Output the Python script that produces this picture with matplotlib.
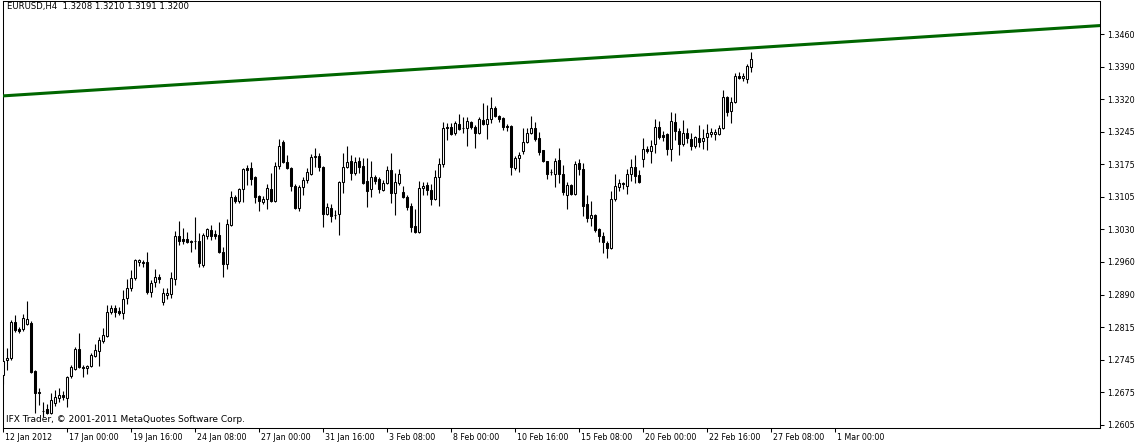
import numpy as np
import matplotlib
matplotlib.use('Agg')
import matplotlib.pyplot as plt
import matplotlib.transforms as mtrans

# EURUSD H4 candles (bar 0 = 12 Jan 2012 08:00)
opens = [
    1.2714, 1.2747, 1.2751, 1.2830, 1.2814, 1.2814, 1.2825, 1.2828, 1.2723, 1.2677,
    1.2635, 1.2639, 1.2631, 1.2652, 1.2663, 1.2670, 1.2663, 1.2712, 1.2727, 1.2771,
    1.2731, 1.2729, 1.2733, 1.2755, 1.2766, 1.2788, 1.2799, 1.2852, 1.2860, 1.2854,
    1.2850, 1.2882, 1.2904, 1.2926, 1.2961, 1.2961, 1.2961, 1.2896, 1.2917, 1.2928,
    1.2874, 1.2889, 1.2891, 1.2924, 1.3018, 1.3012, 1.3012, 1.3007, 1.3007, 1.3007,
    1.2955, 1.3018, 1.3031, 1.3023, 1.3020, 1.2983, 1.2957, 1.3042, 1.3104, 1.3095,
    1.3121, 1.3167, 1.3167, 1.3147, 1.3106, 1.3093, 1.3099, 1.3121, 1.3095, 1.3171,
    1.3224, 1.3180, 1.3167, 1.3128, 1.3079, 1.3125, 1.3141, 1.3154, 1.3191, 1.3193,
    1.3169, 1.3066, 1.3079, 1.3064, 1.3066, 1.3136, 1.3169, 1.3182, 1.3156, 1.3182,
    1.3171, 1.3139, 1.3121, 1.3147, 1.3143, 1.3119, 1.3134, 1.3163, 1.3112, 1.3134,
    1.3114, 1.3104, 1.3084, 1.3040, 1.3027, 1.3123, 1.3130, 1.3119, 1.3099, 1.3147,
    1.3176, 1.3257, 1.3257, 1.3244, 1.3263, 1.3255, 1.3255, 1.3268, 1.3257, 1.3244,
    1.3272, 1.3263, 1.3274, 1.3298, 1.3281, 1.3277, 1.3259, 1.3259, 1.3167, 1.3189,
    1.3204, 1.3224, 1.3244, 1.3255, 1.3233, 1.3207, 1.3182, 1.3158, 1.3154, 1.3185,
    1.3154, 1.3108, 1.3130, 1.3110, 1.3178, 1.3165, 1.3088, 1.3058, 1.3064, 1.3033,
    1.3018, 1.3003, 1.2992, 1.3099, 1.3125, 1.3134, 1.3128, 1.3154, 1.3169, 1.3152,
    1.3187, 1.3209, 1.3204, 1.3220, 1.3257, 1.3239, 1.3242, 1.3209, 1.3268, 1.3248,
    1.3220, 1.3244, 1.3231, 1.3215, 1.3233, 1.3226, 1.3235, 1.3242, 1.3242, 1.3242,
    1.3255, 1.3323, 1.3292, 1.3312, 1.3369, 1.3364, 1.3362, 1.3388,
]
highs = [
    1.2747, 1.2773, 1.2834, 1.2845, 1.2819, 1.2847, 1.2876, 1.2832, 1.2725, 1.2685,
    1.2655, 1.2650, 1.2674, 1.2681, 1.2685, 1.2679, 1.2712, 1.2736, 1.2775, 1.2806,
    1.2736, 1.2736, 1.2762, 1.2782, 1.2797, 1.2817, 1.2867, 1.2867, 1.2867, 1.2863,
    1.2900, 1.2924, 1.2944, 1.2968, 1.2968, 1.2966, 1.2983, 1.2922, 1.2946, 1.2935,
    1.2904, 1.2904, 1.2939, 1.3029, 1.3051, 1.3036, 1.3027, 1.3009, 1.3060, 1.3025,
    1.3025, 1.3036, 1.3042, 1.3031, 1.3049, 1.2994, 1.3055, 1.3117, 1.3108, 1.3123,
    1.3167, 1.3174, 1.3180, 1.3150, 1.3108, 1.3106, 1.3132, 1.3156, 1.3180, 1.3231,
    1.3228, 1.3196, 1.3169, 1.3132, 1.3130, 1.3147, 1.3167, 1.3198, 1.3211, 1.3200,
    1.3171, 1.3090, 1.3088, 1.3075, 1.3139, 1.3200, 1.3215, 1.3196, 1.3191, 1.3191,
    1.3189, 1.3189, 1.3182, 1.3152, 1.3147, 1.3141, 1.3171, 1.3200, 1.3156, 1.3165,
    1.3128, 1.3108, 1.3090, 1.3077, 1.3139, 1.3136, 1.3136, 1.3132, 1.3163, 1.3189,
    1.3268, 1.3266, 1.3266, 1.3270, 1.3285, 1.3279, 1.3279, 1.3270, 1.3261, 1.3279,
    1.3309, 1.3305, 1.3323, 1.3303, 1.3283, 1.3279, 1.3263, 1.3261, 1.3193, 1.3202,
    1.3255, 1.3255, 1.3281, 1.3268, 1.3246, 1.3207, 1.3182, 1.3165, 1.3189, 1.3211,
    1.3174, 1.3136, 1.3132, 1.3182, 1.3187, 1.3178, 1.3108, 1.3095, 1.3066, 1.3036,
    1.3027, 1.3007, 1.3117, 1.3154, 1.3143, 1.3136, 1.3165, 1.3187, 1.3196, 1.3163,
    1.3233, 1.3215, 1.3228, 1.3274, 1.3270, 1.3248, 1.3244, 1.3290, 1.3288, 1.3255,
    1.3272, 1.3255, 1.3244, 1.3237, 1.3261, 1.3252, 1.3263, 1.3255, 1.3252, 1.3261,
    1.3338, 1.3325, 1.3323, 1.3375, 1.3377, 1.3375, 1.3395, 1.3421,
]
lows = [
    1.2694, 1.2725, 1.2747, 1.2808, 1.2806, 1.2810, 1.2823, 1.2718, 1.2631, 1.2648,
    1.2622, 1.2628, 1.2628, 1.2646, 1.2655, 1.2659, 1.2644, 1.2707, 1.2725, 1.2729,
    1.2709, 1.2716, 1.2731, 1.2753, 1.2733, 1.2784, 1.2797, 1.2847, 1.2841, 1.2845,
    1.2836, 1.2869, 1.2898, 1.2922, 1.2952, 1.2950, 1.2891, 1.2885, 1.2906, 1.2915,
    1.2867, 1.2880, 1.2882, 1.2911, 1.2998, 1.3001, 1.3003, 1.2983, 1.2990, 1.2950,
    1.2950, 1.3012, 1.3009, 1.3012, 1.2981, 1.2928, 1.2946, 1.3040, 1.3090, 1.3090,
    1.3093, 1.3130, 1.3130, 1.3090, 1.3073, 1.3088, 1.3077, 1.3093, 1.3093, 1.3165,
    1.3178, 1.3165, 1.3117, 1.3077, 1.3073, 1.3108, 1.3134, 1.3152, 1.3169, 1.3161,
    1.3038, 1.3064, 1.3049, 1.3055, 1.3020, 1.3112, 1.3167, 1.3141, 1.3152, 1.3156,
    1.3132, 1.3082, 1.3104, 1.3132, 1.3112, 1.3117, 1.3132, 1.3090, 1.3064, 1.3130,
    1.3101, 1.3075, 1.3027, 1.3025, 1.3025, 1.3108, 1.3108, 1.3086, 1.3097, 1.3084,
    1.3169, 1.3228, 1.3239, 1.3239, 1.3250, 1.3244, 1.3215, 1.3252, 1.3211, 1.3242,
    1.3261, 1.3231, 1.3266, 1.3279, 1.3268, 1.3250, 1.3248, 1.3152, 1.3163, 1.3158,
    1.3198, 1.3222, 1.3242, 1.3226, 1.3196, 1.3180, 1.3143, 1.3152, 1.3125, 1.3134,
    1.3108, 1.3077, 1.3108, 1.3108, 1.3152, 1.3062, 1.3049, 1.3040, 1.3027, 1.3005,
    1.2981, 1.2970, 1.2990, 1.3095, 1.3117, 1.3121, 1.3110, 1.3139, 1.3134, 1.3134,
    1.3169, 1.3200, 1.3178, 1.3200, 1.3231, 1.3226, 1.3196, 1.3182, 1.3228, 1.3196,
    1.3215, 1.3222, 1.3207, 1.3211, 1.3213, 1.3209, 1.3207, 1.3235, 1.3228, 1.3239,
    1.3252, 1.3281, 1.3266, 1.3309, 1.3362, 1.3358, 1.3353, 1.3377,
]
closes = [
    1.2744, 1.2751, 1.2830, 1.2812, 1.2810, 1.2839, 1.2836, 1.2720, 1.2674, 1.2674,
    1.2635, 1.2631, 1.2659, 1.2666, 1.2670, 1.2666, 1.2709, 1.2731, 1.2771, 1.2731,
    1.2729, 1.2733, 1.2758, 1.2769, 1.2790, 1.2801, 1.2852, 1.2860, 1.2852, 1.2850,
    1.2880, 1.2904, 1.2926, 1.2966, 1.2966, 1.2959, 1.2896, 1.2915, 1.2928, 1.2924,
    1.2893, 1.2893, 1.2926, 1.3018, 1.3007, 1.3007, 1.3005, 1.3005, 1.3007, 1.2959,
    1.3020, 1.3033, 1.3018, 1.3018, 1.2983, 1.2957, 1.3044, 1.3104, 1.3095, 1.3121,
    1.3165, 1.3163, 1.3143, 1.3104, 1.3095, 1.3099, 1.3123, 1.3095, 1.3171, 1.3215,
    1.3180, 1.3167, 1.3128, 1.3079, 1.3125, 1.3141, 1.3158, 1.3191, 1.3193, 1.3169,
    1.3066, 1.3082, 1.3062, 1.3064, 1.3136, 1.3169, 1.3180, 1.3156, 1.3180, 1.3169,
    1.3134, 1.3117, 1.3147, 1.3139, 1.3121, 1.3134, 1.3163, 1.3112, 1.3136, 1.3154,
    1.3104, 1.3082, 1.3038, 1.3027, 1.3123, 1.3128, 1.3119, 1.3099, 1.3147, 1.3176,
    1.3255, 1.3255, 1.3242, 1.3266, 1.3252, 1.3255, 1.3270, 1.3257, 1.3244, 1.3274,
    1.3263, 1.3274, 1.3298, 1.3281, 1.3274, 1.3257, 1.3257, 1.3169, 1.3189, 1.3196,
    1.3224, 1.3244, 1.3255, 1.3231, 1.3202, 1.3182, 1.3154, 1.3158, 1.3182, 1.3154,
    1.3114, 1.3130, 1.3110, 1.3176, 1.3165, 1.3084, 1.3058, 1.3064, 1.3031, 1.3018,
    1.3005, 1.2992, 1.3099, 1.3128, 1.3134, 1.3132, 1.3154, 1.3169, 1.3150, 1.3136,
    1.3209, 1.3204, 1.3215, 1.3257, 1.3235, 1.3235, 1.3209, 1.3270, 1.3248, 1.3220,
    1.3244, 1.3233, 1.3215, 1.3235, 1.3224, 1.3233, 1.3244, 1.3246, 1.3246, 1.3255,
    1.3323, 1.3290, 1.3312, 1.3369, 1.3364, 1.3369, 1.3390, 1.3406,
]

# trendline anchors (bar index, price)
trend_bars = [0, 187]
trend_prices = [1.3325, 1.3430]

price_labels = ['1.3460', '1.3390', '1.3320', '1.3245', '1.3175', '1.3105', '1.3030',
                '1.2960', '1.2890', '1.2815', '1.2745', '1.2675', '1.2605']
time_labels = ['12 Jan 2012', '17 Jan 00:00', '19 Jan 16:00', '24 Jan 08:00',
               '27 Jan 00:00', '31 Jan 16:00', '3 Feb 08:00', '8 Feb 00:00',
               '10 Feb 16:00', '15 Feb 08:00', '20 Feb 00:00', '22 Feb 16:00',
               '27 Feb 08:00', '1 Mar 00:00']
title = 'EURUSD,H4  1.3208 1.3210 1.3191 1.3200'
copyright = 'IFX Trader, \u00a9 2001-2011 MetaQuotes Software Corp.'

plt.rcParams['font.family'] = ['DejaVu Sans']

W, H = 1138, 445
fig = plt.figure(figsize=(W / 100, H / 100), dpi=100)
ax = fig.add_axes([2.5 / W, 17 / H, 1097.5 / W, 427 / H])

o = np.array(opens)
hi = np.array(highs)
lo = np.array(lows)
c = np.array(closes)
x = np.arange(len(o))
up = c >= o
bottom = np.minimum(o, c)
height = np.abs(c - o)

# wicks first, bodies on top (white body hides the wick inside it)
ax.vlines(x, lo, hi, color='black', lw=0.8, zorder=2)
ax.bar(x[up], height[up], bottom=bottom[up], width=0.55, color='white',
       edgecolor='black', lw=0.75, zorder=3)
ax.bar(x[~up], height[~up], bottom=bottom[~up], width=0.55, color='black',
       edgecolor='black', lw=0.75, zorder=3)

ax.axline((trend_bars[0], trend_prices[0]), (trend_bars[1], trend_prices[1]),
          color='#006600', lw=2.2, zorder=4)

ax.set_xlim(-0.125, 274.25)
ax.set_ylim(1.25977, 1.35328)

ax.yaxis.tick_right()
ax.set_yticks(np.linspace(1.3460, 1.2605, len(price_labels)), price_labels)
ax.tick_params(axis='y', direction='out', length=3, width=0.75, pad=2, labelsize=5.8)
ax.set_xticks(np.arange(len(time_labels)) * 16, time_labels, ha='left')
ax.tick_params(axis='x', direction='out', length=3, width=0.75, pad=0.5, labelsize=5.7)
shift = mtrans.ScaledTranslation(2 / 100, 0, fig.dpi_scale_trans)
for lbl in ax.get_xticklabels():
    lbl.set_transform(lbl.get_transform() + shift)

for sp in ax.spines.values():
    sp.set_linewidth(0.75)
    sp.set_color('black')

ax.annotate(title, xy=(0, 1), xycoords='axes fraction', xytext=(4.5, -1.5),
            textcoords='offset pixels', ha='left', va='top', fontsize=6.1)
ax.annotate(copyright, xy=(0, 0), xycoords='axes fraction', xytext=(3.5, 6),
            textcoords='offset pixels', ha='left', va='baseline', fontsize=6.5)

fig.savefig('out.png', dpi=100)
